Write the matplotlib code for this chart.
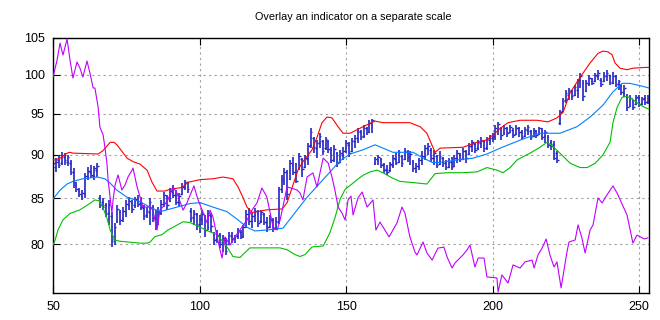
import matplotlib
matplotlib.use("Agg")
import matplotlib.pyplot as plt
from matplotlib.ticker import NullLocator, NullFormatter, FixedLocator, FixedFormatter

plt.rcParams['font.family'] = ['Liberation Sans', 'DejaVu Sans']

title = "Overlay an indicator on a separate scale"
xticks = [50, 100, 150, 200, 250]
yticks = [80, 85, 90, 95, 100, 105]

days = list(range(50, 254))
lows = [87.9, 88.0, 88.4, 88.8, 88.8, 88.7, 87.6, 86.2, 85.7, 85.1,
        84.8, 85.0, 87.1, 87.3, 87.1, 87.4, 83.9, 83.7, 82.9, 82.0,
        79.7, 79.9, 82.3, 82.0, 82.4, 82.9, 83.7, 83.4, 83.9, 84.0,
        83.7, 82.6, 82.8, 82.0, 82.4, 81.5, 82.0, 83.1, 84.0, 83.7,
        84.6, 85.0, 84.2, 84.0, 85.4, 85.9, 85.6, 82.4, 82.0, 81.5,
        81.2, 82.0, 80.8, 81.5, 81.3, 79.9, 80.1, 79.6, 79.2, 78.9,
        79.9, 80.1, 80.1, 80.5, 80.5, 80.6, 81.7, 82.0, 81.7, 82.4,
        81.8, 82.3, 82.0, 81.3, 81.7, 81.3, 81.5, 82.2, 85.6, 86.5,
        84.8, 87.1, 87.6, 86.7, 88.2, 87.4, 88.4, 88.8, 90.8, 90.2,
        89.6, 90.8, 90.0, 90.6, 90.2, 89.0, 89.2, 88.6, 89.0, 89.4,
        90.2, 89.8, 90.3, 90.8, 91.4, 91.8, 92.0, 92.4, 92.6, 92.6,
        88.8, 88.8, 88.4, 87.9, 87.6, 88.0, 88.4, 88.8, 89.0, 88.6,
        89.4, 89.2, 88.8, 88.0, 87.9, 88.2, 88.8, 89.4, 90.0, 89.2,
        88.8, 88.4, 88.8, 88.6, 88.2, 88.4, 88.2, 88.6, 89.0, 89.2,
        89.4, 89.0, 90.0, 90.3, 90.2, 90.6, 90.8, 90.3, 90.6, 91.2,
        91.5, 91.8, 92.4, 91.8, 92.4, 92.2, 92.6, 92.0, 92.4, 92.2,
        91.8, 92.2, 92.4, 91.8, 92.2, 92.0, 92.4, 91.8, 91.4, 90.8,
        90.6, 89.4, 89.0, 93.6, 95.3, 96.4, 96.8, 96.8, 97.2, 97.0,
        98.3, 96.6, 97.8, 98.5, 98.7, 99.1, 99.3, 98.4, 99.1, 99.2,
        98.7, 98.8, 98.4, 98.0, 97.4, 97.1, 95.3, 95.9, 95.5, 96.1,
        95.8, 96.1, 96.1, 96.3]
highs = [89.3, 89.6, 90.0, 90.3, 90.2, 90.0, 89.4, 88.5, 86.8, 86.2,
         85.9, 87.9, 88.6, 88.8, 88.7, 89.0, 85.4, 85.0, 84.5, 84.8,
         83.5, 82.3, 84.2, 83.7, 84.0, 84.8, 85.1, 84.8, 85.1, 85.4,
         85.1, 84.2, 84.0, 85.0, 84.2, 83.7, 84.0, 84.8, 85.7, 85.4,
         86.1, 86.5, 85.9, 85.6, 86.7, 87.1, 86.8, 83.9, 83.7, 83.3,
         83.1, 83.7, 83.1, 83.7, 83.3, 81.3, 81.5, 81.2, 81.0, 80.6,
         81.3, 81.3, 81.0, 81.7, 81.5, 82.0, 83.7, 83.9, 83.3, 83.9,
         83.7, 83.7, 83.3, 82.9, 83.1, 82.8, 82.9, 86.3, 87.6, 88.4,
         88.2, 89.4, 89.7, 89.0, 90.2, 89.6, 90.0, 91.4, 93.2, 92.2,
         91.8, 92.6, 91.8, 92.2, 91.8, 90.9, 91.2, 90.3, 90.6, 90.9,
         91.8, 91.5, 92.0, 92.4, 93.2, 93.0, 93.6, 93.4, 94.2, 94.4,
         89.7, 90.0, 89.6, 89.0, 88.8, 89.1, 90.0, 90.2, 90.6, 90.0,
         90.8, 90.6, 90.4, 89.4, 89.0, 89.6, 90.4, 91.2, 91.4, 90.8,
         90.6, 90.0, 90.4, 89.7, 89.4, 89.6, 89.7, 90.0, 90.6, 90.2,
         90.8, 90.6, 91.4, 91.8, 91.4, 91.8, 92.1, 91.8, 92.1, 92.4,
         92.6, 93.6, 94.0, 93.4, 93.6, 93.4, 93.6, 93.2, 93.6, 93.4,
         93.0, 93.4, 93.6, 93.0, 93.2, 93.0, 93.4, 93.2, 93.0, 92.4,
         91.8, 91.6, 90.4, 95.5, 97.0, 98.0, 98.3, 98.0, 98.7, 99.5,
         100.3, 99.3, 99.3, 100.0, 99.6, 100.3, 100.6, 99.6, 100.4, 100.6,
         100.0, 100.4, 100.0, 99.4, 98.8, 98.7, 97.5, 97.4, 96.8, 97.4,
         97.4, 97.1, 97.4, 97.4]
opens = [88.2, 88.6, 89.4, 89.0, 89.8, 89.2, 89.0, 88.0, 86.5, 85.8,
         85.2, 85.5, 87.5, 88.0, 87.5, 88.2, 85.0, 84.6, 84.2, 83.3,
         83.0, 80.5, 82.5, 83.5, 82.8, 83.4, 84.2, 84.5, 84.2, 84.8,
         84.5, 83.9, 83.1, 83.5, 84.0, 82.8, 82.2, 83.4, 84.3, 85.1,
         84.7, 85.7, 85.3, 84.6, 85.5, 86.3, 86.8, 83.6, 82.9, 83.2,
         82.1, 82.6, 83.0, 81.8, 83.0, 81.0, 80.5, 81.0, 80.2, 80.4,
         80.0, 80.9, 80.6, 80.9, 81.3, 80.9, 81.9, 83.0, 82.5, 83.1,
         83.4, 82.5, 83.2, 82.4, 81.8, 82.6, 81.7, 82.4, 86.0, 87.0,
         88.0, 87.2, 88.8, 88.0, 88.4, 89.5, 88.6, 89.5, 91.2, 92.0,
         90.8, 91.4, 91.6, 90.8, 91.6, 90.6, 89.5, 90.2, 89.2, 90.0,
         90.5, 91.2, 90.4, 91.6, 92.0, 92.8, 92.3, 93.2, 92.8, 93.6,
         89.0, 89.4, 89.5, 88.9, 88.3, 88.2, 88.8, 89.5, 89.2, 89.9,
         89.5, 90.3, 89.8, 89.2, 88.4, 88.7, 89.4, 89.8, 90.8, 90.6,
         89.6, 89.9, 88.9, 89.6, 89.0, 88.6, 89.2, 88.7, 89.6, 90.0,
         89.5, 90.4, 90.1, 91.0, 91.3, 90.8, 91.4, 91.7, 90.8, 91.8,
         92.0, 92.2, 93.0, 93.3, 92.6, 93.2, 92.7, 93.0, 92.5, 93.2,
         92.8, 92.3, 93.0, 92.9, 92.3, 92.9, 92.5, 93.0, 92.3, 92.2,
         91.5, 91.3, 90.2, 93.8, 95.4, 96.8, 97.4, 97.9, 97.4, 98.0,
         99.3, 99.0, 97.9, 98.8, 99.5, 99.2, 99.8, 99.4, 99.2, 99.8,
         100.0, 99.0, 99.8, 98.8, 98.7, 97.6, 97.2, 96.0, 96.7, 96.2,
         97.0, 96.3, 97.0, 96.5]
closes = [89.0, 89.2, 88.8, 90.0, 89.4, 89.7, 88.0, 86.8, 86.0, 85.5,
          85.6, 87.5, 88.1, 87.6, 88.4, 88.7, 84.3, 84.0, 83.2, 84.2,
          80.3, 81.8, 83.8, 82.6, 83.6, 84.3, 84.7, 83.8, 84.9, 84.3,
          84.0, 83.0, 83.6, 84.6, 82.8, 82.0, 83.5, 84.4, 85.3, 84.2,
          85.8, 85.4, 84.6, 85.2, 86.3, 86.8, 86.0, 82.8, 83.3, 82.0,
          82.8, 83.2, 81.5, 83.1, 81.9, 80.4, 81.0, 80.0, 80.6, 79.3,
          81.0, 80.5, 80.9, 81.4, 80.8, 81.8, 83.2, 82.5, 83.0, 83.6,
          82.3, 83.5, 82.4, 81.8, 82.7, 81.6, 82.5, 86.0, 87.2, 88.0,
          85.5, 89.0, 88.0, 87.0, 89.9, 88.3, 89.6, 91.0, 92.7, 90.9,
          91.4, 92.3, 90.5, 91.9, 90.7, 89.4, 90.7, 89.0, 90.2, 90.5,
          91.4, 90.2, 91.6, 92.0, 92.9, 92.2, 93.3, 92.7, 93.8, 94.2,
          89.5, 89.8, 88.8, 88.2, 88.0, 88.9, 89.6, 89.0, 90.3, 89.0,
          90.4, 89.8, 90.1, 88.4, 88.7, 89.4, 89.9, 90.8, 91.1, 89.6,
          90.2, 88.8, 89.9, 89.0, 88.6, 89.2, 88.6, 89.6, 90.2, 89.5,
          90.5, 89.6, 91.1, 91.5, 90.6, 91.5, 91.8, 90.8, 91.9, 92.0,
          92.3, 93.2, 93.7, 92.4, 93.3, 92.6, 93.4, 92.4, 93.3, 92.8,
          92.2, 93.1, 93.4, 92.1, 93.0, 92.4, 93.2, 92.2, 92.8, 91.2,
          91.0, 89.6, 89.4, 95.2, 96.6, 97.7, 98.0, 97.2, 98.4, 99.2,
          99.8, 97.2, 98.9, 99.6, 98.9, 100.0, 100.3, 98.8, 99.9, 100.2,
          99.1, 99.9, 98.8, 99.2, 97.8, 98.3, 95.8, 97.0, 95.8, 97.1,
          96.3, 96.9, 96.5, 97.0]

upper_x = [50, 50.7, 52.4, 54.8, 55.8, 56.8, 65.4, 67.1, 69.5, 70.8, 71.8, 72.9, 75.3, 77.3,
           79.7, 82.1, 83.8, 85.5, 88.2, 89.9, 94.0, 96.1, 100.2, 104.6, 108.0, 111.4, 113.1,
           114.8, 116.2, 117.9, 119.6, 123.0, 128.2, 129.9, 131.9, 133.6, 135.3, 138.4, 140.1,
           141.8, 143.5, 145.2, 147.3, 149.0, 151.4, 155.8, 159.9, 162.6, 171.8, 175.3, 177.6,
           179.4, 180.4, 182.1, 189.9, 194.7, 198.1, 200.2, 202.6, 205.3, 209.4, 215.2, 218.9,
           222.0, 224.1, 226.5, 229.9, 233.3, 236.0, 237.7, 239.4, 240.8, 241.8, 243.5, 245.9,
           248.0, 252.0, 253.4]
upper_v = [89.4, 89.4, 89.6, 90.2, 90.3, 90.2, 90.1, 90.5, 91.5, 91.5, 91.2, 90.7, 89.6, 89.2,
           88.9, 88.2, 86.8, 85.8, 85.8, 86.0, 86.2, 86.8, 87.1, 87.2, 87.4, 87.2, 86.3,
           85.1, 84.0, 83.4, 83.5, 83.7, 83.8, 84.5, 86.5, 88.2, 89.2, 90.6, 92.1,
           93.9, 94.6, 94.5, 93.4, 92.6, 92.6, 93.4, 94.1, 93.9, 93.9, 93.4, 92.6,
           91.1, 90.3, 90.8, 90.9, 91.5, 91.8, 92.4, 93.2, 93.9, 94.2, 94.2, 94.0,
           94.5, 95.2, 97.7, 99.7, 101.6, 102.9, 103.2, 103.1, 102.7, 101.6, 100.9, 100.7,
           100.9, 101.0, 101.0]

mid_x = [50, 52.4, 54.8, 56.8, 60.2, 65.0, 67.7, 69.5, 71.8, 75.3, 79.7, 83.1, 86.5, 88.9,
         92.3, 96.8, 100.2, 104.6, 109.4, 113.1, 116.2, 118.9, 123.0, 128.5, 131.9, 136.7,
         143.5, 148.0, 151.4, 155.8, 159.9, 162.6, 166.0, 172.9, 175.9, 179.4, 182.1, 187.9,
         193.3, 198.1, 202.6, 210.4, 216.2, 219.6, 223.0, 228.8, 233.3, 237.7, 241.1, 244.2,
         246.9, 250.3, 253.4]
mid_v = [84.9, 85.9, 86.6, 86.9, 87.2, 87.4, 87.2, 86.7, 85.9, 85.1, 84.6, 84.0, 83.5, 83.7,
         84.0, 84.4, 84.5, 84.0, 83.5, 82.6, 81.8, 81.4, 81.5, 81.7, 83.1, 85.1,
         87.6, 89.3, 90.1, 90.6, 91.2, 90.8, 90.3, 90.3, 89.7, 89.1, 89.1, 89.4,
         89.6, 90.1, 90.8, 91.9, 92.6, 92.6, 92.6, 93.4, 94.6, 96.1, 97.8, 98.9,
         98.9, 98.6, 98.3]

lower_x = [50, 50.7, 51.7, 53.4, 55.8, 59.2, 61.6, 64.3, 65.7, 67.1, 68.4, 69.5, 71.2, 72.9,
           79.7, 82.1, 83.1, 84.8, 87.2, 89.2, 91.0, 94.4, 96.8, 100.2, 103.6, 106.0, 109.4,
           111.4, 113.8, 115.5, 117.2, 127.5, 129.9, 132.6, 134.3, 136.0, 138.4, 142.2, 144.5,
           146.2, 148.0, 149.7, 152.0, 153.8, 155.8, 158.2, 160.6, 162.6, 165.7, 168.4, 171.8,
           177.6, 180.4, 184.5, 189.9, 194.7, 198.1, 201.5, 203.6, 206.0, 208.4, 212.8, 216.2,
           218.6, 220.3, 223.0, 226.5, 229.9, 232.3, 235.0, 237.7, 240.1, 241.1, 242.5, 244.2,
           245.9, 247.6, 249.7, 252.0, 253.4]
lower_v = [79.9, 80.4, 81.5, 82.6, 83.3, 83.7, 84.2, 84.8, 84.7, 83.9, 82.8, 81.5, 80.4, 80.3,
           80.1, 80.1, 80.2, 80.8, 81.0, 81.5, 81.8, 82.4, 82.3, 81.8, 81.3, 81.0, 79.7,
           78.7, 78.6, 79.1, 79.6, 79.6, 79.4, 78.9, 78.7, 78.9, 79.7, 79.8, 81.2,
           82.8, 84.9, 86.0, 86.6, 87.1, 87.6, 88.0, 88.2, 87.9, 87.3, 86.9, 86.8,
           86.6, 87.8, 87.9, 87.9, 88.0, 88.5, 88.2, 87.9, 88.5, 89.4, 90.2, 90.9,
           91.5, 91.1, 90.2, 89.0, 88.5, 88.5, 89.0, 90.0, 91.5, 93.9, 95.8, 97.1,
           97.2, 96.9, 96.3, 95.8, 95.6]

ind_x = [50.0, 51.4, 52.4, 53.4, 54.8, 55.8, 56.8, 58.2, 59.2, 60.2, 61.6, 62.6, 63.7, 64.3,
         65.4, 66.0, 67.1, 67.7, 68.4, 68.8, 70.1, 70.5, 71.2, 72.2, 73.5, 74.6, 75.6, 77.0,
         77.3, 78.7, 79.7, 80.7, 83.1, 84.1, 85.5, 86.5, 87.5, 89.2, 91.0, 92.3, 94.4, 95.7,
         98.1, 99.5, 100.9, 102.6, 103.6, 104.6, 106.0, 107.0, 107.7, 108.7, 110.4, 112.1,
         114.5, 116.2, 117.9, 119.6, 121.3, 123.0, 125.1, 126.5, 127.5, 129.9, 133.3, 134.3,
         135.3, 136.7, 138.7, 140.1, 142.2, 143.9, 145.2, 146.2, 147.3, 148.6, 149.7, 150.7,
         151.7, 152.4, 154.1, 155.5, 157.2, 159.2, 160.2, 161.6, 164.7, 167.4, 169.1, 170.1,
         171.8, 173.5, 174.2, 176.3, 177.6, 179.4, 180.7, 181.4, 183.4, 184.5, 186.2, 187.2,
         189.9, 191.3, 192.3, 194.0, 195.1, 197.1, 198.1, 201.5, 201.9, 203.2, 205.3, 207.0,
         209.4, 211.1, 213.5, 214.2, 215.5, 216.9, 218.3, 219.6, 221.0, 222.0, 223.4, 225.4,
         226.1, 228.2, 229.2, 230.5, 231.6, 233.3, 234.3, 236.0, 237.4, 238.4, 241.1, 242.5,
         245.9, 247.9, 249.3, 251.8, 253.0]
ind_v = [84.7, 91.4, 98.0, 93.3, 99.6, 91.4, 84.3, 90.6, 88.2, 84.7, 91.0, 86.3, 80.4, 80.4,
         72.9, 65.1, 62.0, 57.3, 51.0, 44.3, 31.4, 36.5, 42.4, 46.3, 40.4, 42.4, 45.5, 48.2,
         49.0, 41.6, 37.6, 33.7, 33.7, 32.5, 24.7, 32.5, 33.7, 36.5, 41.6, 39.2, 32.5, 35.3,
         42.0, 36.5, 32.5, 27.5, 32.5, 29.8, 22.0, 16.9, 13.7, 22.0, 18.8, 22.0,
         25.9, 28.6, 32.5, 35.3, 41.2, 37.6, 25.9, 24.7, 28.6, 41.6, 40.4, 39.2,
         36.5, 45.5, 47.1, 41.6, 52.9, 51.0, 45.5, 40.4, 33.7, 31.4, 28.6, 36.5,
         38.0, 30.6, 37.3, 39.6, 33.7, 36.5, 24.7, 27.8, 22.0, 27.5, 33.7, 31.4,
         22.0, 16.1, 14.9, 20.0, 15.7, 12.9, 16.1, 17.6, 18.0, 14.1, 9.8, 11.8,
         14.9, 16.9, 18.8, 10.2, 13.7, 13.7, 6.3, 5.9, 0.4, 7.1, 3.9, 11.0,
         9.8, 12.2, 12.9, 9.8, 14.9, 17.6, 21.2, 14.9, 10.2, 12.2, 2.0, 16.1,
         20.0, 20.8, 26.7, 21.6, 15.7, 24.7, 26.7, 37.3, 35.3, 37.3, 42.0, 39.2,
         30.6, 19.6, 22.7, 21.2, 21.6]

BAR = '#2424c4'
fig = plt.figure(figsize=(6.6, 3.2), dpi=100)
ax = fig.add_axes([53/660, 1-293/320, (649-53)/660, (293-38)/320])

ax.vlines(days, lows, highs, color=BAR, lw=1.2, zorder=2)
tk = 0.55
ax.hlines(opens, [d - tk for d in days], days, color=BAR, lw=1.0, zorder=2)
ax.hlines(closes, days, [d + tk for d in days], color=BAR, lw=1.0, zorder=2)

ax.plot(upper_x, upper_v, color='#ff0000', lw=0.8, zorder=3)
ax.plot(mid_x, mid_v, color='#0080ff', lw=0.8, zorder=3)
ax.plot(lower_x, lower_v, color='#00c000', lw=0.8, zorder=3)

ax.set_yscale('log')
ax.set_xlim(50, 253.4)
ax.set_ylim(75, 105)
ax.yaxis.set_major_locator(FixedLocator(yticks))
ax.yaxis.set_major_formatter(FixedFormatter([str(v) for v in yticks]))
ax.yaxis.set_minor_locator(NullLocator())
ax.yaxis.set_minor_formatter(NullFormatter())
ax.set_xticks(xticks)
ax.set_xticklabels([str(v) for v in xticks])
ax.tick_params(direction='in', length=5, width=0.8, top=True, right=True,
               labelsize=9, colors='black', pad=6)
ax.grid(True, color='#a0a0a0', linestyle=(0, (2, 3)), lw=0.8)
ax.set_axisbelow(True)
for s in ax.spines.values():
    s.set_linewidth(1.0)
    s.set_color('black')

ax2 = ax.twinx()
ax2.plot(ind_x, ind_v, color='#c000ff', lw=0.8, zorder=4)
ax2.set_ylim(0, 100)
ax2.set_yticks([])
ax2.set_xlim(50, 253.4)
for s in ax2.spines.values():
    s.set_visible(False)

fig.text(353/660, 1-17/320, title, ha='center', va='center', fontsize=7.8)

fig.savefig('out.png', dpi=100)
